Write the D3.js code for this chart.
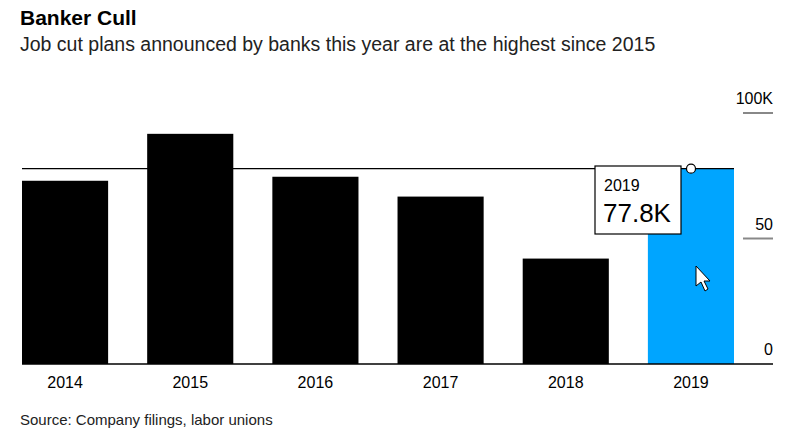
<!DOCTYPE html>
<html><head><meta charset="utf-8">
<script src="https://cdn.jsdelivr.net/npm/d3@7"></script>
<style>body{margin:0;background:#fff;font-family:"Liberation Sans",Arial,sans-serif}</style>
</head><body><svg id="c" width="800" height="440"></svg>
<script>
const categories = ["2014","2015","2016","2017","2018","2019"];
const values = [73, 91.7, 74.6, 66.7, 42, 77.8];
const yTicks = [0, 50, 100];
const tickLabels = ["0", "50", "100K"];

const svg = d3.select("#c");
const x = d3.scaleBand().domain(categories).range([22, 734]).paddingInner(0.312).paddingOuter(0);
const y = d3.scaleLinear().domain([0, 100]).range([364, 113]);
const bw = x.bandwidth();

svg.append("text").attr("x",20).attr("y",25).attr("font-size",21).attr("font-weight","bold").text("Banker Cull");
svg.append("text").attr("x",20).attr("y",51).attr("font-size",19.5).attr("fill","#222").text("Job cut plans announced by banks this year are at the highest since 2015");

svg.selectAll("rect.bar").data(values).join("rect")
  .attr("x",(d,i)=>x(categories[i])).attr("width",bw)
  .attr("y",d=>y(d)).attr("height",d=>y(0)-y(d))
  .attr("fill",(d,i)=>i===5?"#00a5ff":"#000");

yTicks.forEach((t,i)=>{
  if(t>0) svg.append("line").attr("x1",743).attr("x2",773).attr("y1",y(t)).attr("y2",y(t)).attr("stroke","#888").attr("stroke-width",2);
  svg.append("text").attr("x",773).attr("y",y(t)-9).attr("text-anchor","end").attr("font-size",16).text(tickLabels[i]);
});
svg.append("line").attr("x1",22).attr("x2",773).attr("y1",y(0)).attr("y2",y(0)).attr("stroke","#000").attr("stroke-width",1.5);

categories.forEach(c=>{
  svg.append("text").attr("x",x(c)+bw/2).attr("y",388).attr("text-anchor","middle").attr("font-size",16).text(c);
});

const last = values[5];
svg.append("line").attr("x1",22).attr("x2",734).attr("y1",y(last)).attr("y2",y(last)).attr("stroke","#000").attr("stroke-width",1.2);
svg.append("circle").attr("cx",691).attr("cy",y(last)).attr("r",4.5).attr("fill","#fff").attr("stroke","#000").attr("stroke-width",1.2);

svg.append("rect").attr("x",595).attr("y",166).attr("width",86).attr("height",68).attr("fill","#fff").attr("stroke","#000").attr("stroke-width",1.2);
svg.append("text").attr("x",604).attr("y",191).attr("font-size",16).text(categories[5]);
svg.append("text").attr("x",603).attr("y",222).attr("font-size",26).text(last+"K");

svg.append("path").attr("d","M696,266 L696,286 L701,282 L705,291 L708,289 L704,281 L710,281 Z").attr("fill","#fff").attr("stroke","#000").attr("stroke-width",1);

svg.append("text").attr("x",20).attr("y",425).attr("font-size",15).attr("fill","#222").text("Source: Company filings, labor unions");
</script></body></html>
